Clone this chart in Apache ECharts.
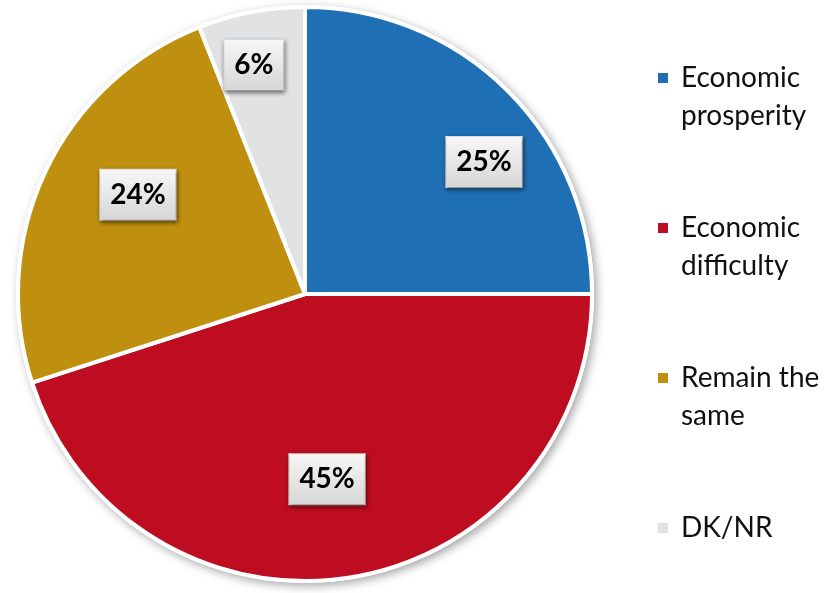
<!DOCTYPE html>
<html>
<head>
<meta charset="utf-8">
<script src="https://cdn.jsdelivr.net/npm/echarts@6/dist/echarts.min.js"></script>
<style>
  html, body { margin: 0; padding: 0; background: #ffffff; }
  #chart { width: 824px; height: 593px; }
</style>
</head>
<body>
<div id="chart"></div>
<script>
// Outlook categories and their shares (percent)
const categories = ['Economic prosperity', 'Economic difficulty', 'Remain the same', 'DK/NR'];
const legendLabels = ['Economic\nprosperity', 'Economic\ndifficulty', 'Remain the\nsame', 'DK/NR\n '];
const shares = [25, 45, 24, 6];
const colors = ['#1F6FB5', '#BE0D20', '#BF8F10', '#E1E2E3'];
// value label placement: fraction of the radius, and angular nudge in degrees
const labelRadius = [0.775, 0.65, 0.677, 0.818];
const labelTurn = [8.6, 2.2, 5.5, -1.8];

const center = [305, 294];
const radius = 287;

// legend marker: a small square aligned with the first text line
const legendIcon = 'path://M0,0M0,14L10,14L10,24L0,24ZM10,76';

const chart = echarts.init(document.getElementById('chart'), null, { renderer: 'canvas' });

chart.setOption({
  animation: false,
  color: colors,
  legend: {
    orient: 'vertical',
    left: 658,
    top: 59,
    padding: 0,
    icon: legendIcon,
    itemWidth: 10,
    itemHeight: 76,
    itemGap: 74,
    itemStyle: { borderWidth: 0 },
    formatter: function (name) {
      return legendLabels[categories.indexOf(name)];
    },
    textStyle: {
      fontFamily: 'Lato',
      fontSize: 28,
      lineHeight: 38,
      color: '#111111',
      padding: [0, 0, 0, 8]
    },
    data: categories
  },
  series: [{
    // backing disc that casts the soft drop shadow under the pie
    type: 'pie',
    silent: true,
    center: center,
    radius: radius + 2,
    z: 1,
    label: { show: false },
    labelLine: { show: false },
    itemStyle: {
      color: '#ffffff',
      shadowBlur: 10,
      shadowOffsetX: 3,
      shadowOffsetY: 3,
      shadowColor: 'rgba(0,0,0,0.35)'
    },
    data: [{ name: 'total', value: shares.reduce((a, b) => a + b, 0) }]
  }, {
    type: 'pie',
    center: center,
    radius: radius,
    startAngle: 90,
    clockwise: true,
    z: 2,
    avoidLabelOverlap: false,
    itemStyle: {
      borderColor: '#ffffff',
      borderWidth: 4
    },
    label: {
      show: true,
      position: 'inside',
      formatter: '{c}%',
      fontFamily: 'Lato',
      fontWeight: 'bold',
      fontSize: 28,
      color: '#000000',
      padding: [12, 10, 10, 10],
      backgroundColor: {
        type: 'linear', x: 0, y: 0, x2: 0, y2: 1,
        colorStops: [
          { offset: 0, color: '#f7f7f7' },
          { offset: 1, color: '#d6d6d6' }
        ]
      },
      borderColor: '#e6e6e6',
      borderWidth: 1,
      shadowBlur: 4,
      shadowOffsetX: 1,
      shadowOffsetY: 2,
      shadowColor: 'rgba(0,0,0,0.45)'
    },
    labelLine: { show: false },
    emphasis: { disabled: true },
    data: categories.map((name, i) => ({ name: name, value: shares[i] })),
    labelLayout: function (params) {
      const r = params.labelRect;
      const cx = r.x + r.width / 2;
      const cy = r.y + r.height / 2;
      const i = params.dataIndex;
      const ang = Math.atan2(cx - center[0], center[1] - cy) + labelTurn[i] * Math.PI / 180;
      const d = labelRadius[i] * radius;
      return {
        x: center[0] + d * Math.sin(ang),
        y: center[1] - d * Math.cos(ang)
      };
    }
  }]
});
</script>
</body>
</html>
